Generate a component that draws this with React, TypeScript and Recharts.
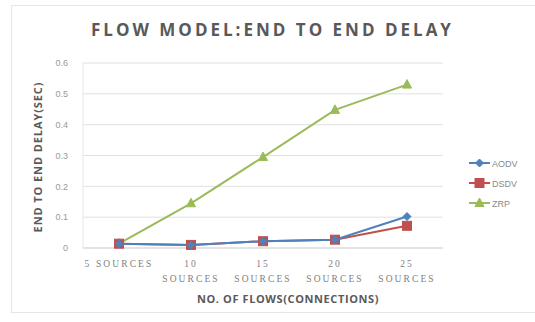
import React from "react";
import { LineChart, Line, XAxis, YAxis, CartesianGrid } from "recharts";

const categories = ["5 SOURCES", "10 SOURCES", "15 SOURCES", "20 SOURCES", "25 SOURCES"];
const aodv = [0.014, 0.01, 0.022, 0.027, 0.102];
const dsdv = [0.014, 0.01, 0.022, 0.027, 0.072];
const zrp = [0.014, 0.145, 0.295, 0.448, 0.53];
const yTicks = [0, 0.1, 0.2, 0.3, 0.4, 0.5, 0.6];

const seriesInfo = [
  { key: "AODV", color: "#4F81BD", shape: "diamond" },
  { key: "DSDV", color: "#C0504D", shape: "square" },
  { key: "ZRP", color: "#9BBB59", shape: "triangle" },
];

const data = categories.map((c, i) => ({ name: c, AODV: aodv[i], DSDV: dsdv[i], ZRP: zrp[i] }));

const Marker = ({ cx, cy, color, shape }: any) => {
  if (cx == null || cy == null) return null;
  if (shape === "square") {
    return <rect x={cx - 4.5} y={cy - 4.5} width={9} height={9} fill={color} stroke={color} />;
  }
  if (shape === "triangle") {
    return <polygon points={`${cx},${cy - 5} ${cx + 4.5},${cy + 3.5} ${cx - 4.5},${cy + 3.5}`} fill={color} stroke={color} />;
  }
  return <polygon points={`${cx},${cy - 4} ${cx + 4},${cy} ${cx},${cy + 4} ${cx - 4},${cy}`} fill={color} stroke={color} />;
};

const XTick = ({ x, y, payload }: any) => {
  const v: string = payload.value;
  const parts = v.split(" ");
  const style = { fontFamily: "Liberation Serif", fontSize: 9.5, fill: "#7f7f7f", letterSpacing: 2.1 };
  if (parts[0] === "5") {
    return (
      <text x={x} y={y + 11} textAnchor="middle" style={style}>
        {v}
      </text>
    );
  }
  return (
    <g>
      <text x={x} y={y + 11} textAnchor="middle" style={style}>
        {parts[0]}
      </text>
      <text x={x} y={y + 26} textAnchor="middle" style={style}>
        {parts[1]}
      </text>
    </g>
  );
};

const LegendBox = () => (
  <svg width={70} height={60} style={{ position: "absolute", left: 466, top: 153 }}>
    {seriesInfo.map((s, i) => {
      const y = 10 + i * 20;
      return (
        <g key={s.key}>
          <line x1={3} x2={24} y1={y} y2={y} stroke={s.color} strokeWidth={2} />
          <Marker cx={13.5} cy={y} color={s.color} shape={s.shape} />
          <text x={26} y={y + 3.5} style={{ fontFamily: "Liberation Sans", fontSize: 9, fill: "#8a8a8a" }}>
            {s.key}
          </text>
        </g>
      );
    })}
  </svg>
);

export default function App() {
  return (
    <div style={{ position: "absolute", left: 0, top: 0, width: 535, height: 322, background: "#ffffff", overflow: "hidden" }}>
      <div style={{ position: "absolute", left: 11, top: 5, width: 540, height: 308, border: "1px solid #e6e6e6", boxSizing: "border-box" }} />
      <div
        style={{
          position: "absolute",
          left: 0,
          width: 535,
          top: 18,
          textAlign: "center",
          fontFamily: "Open Sans",
          fontWeight: 700,
          fontSize: 17,
          letterSpacing: 3,
          color: "#595959",
          paddingLeft: 10,
          boxSizing: "border-box",
          whiteSpace: "nowrap",
        }}
      >
        FLOW MODEL:END TO END DELAY
      </div>
      <div style={{ position: "absolute", left: 0, top: 0 }}>
        <LineChart width={535} height={322} data={data} margin={{ top: 63, right: 92, bottom: 44, left: 53 }}>
          <CartesianGrid horizontal={true} vertical={false} stroke="#e0e0e0" />
          <XAxis
            dataKey="name"
            tick={<XTick />}
            tickLine={false}
            axisLine={{ stroke: "#d9d9d9" }}
            interval={0}
            height={30}
            padding={{ left: 36, right: 36 }}
          />
          <YAxis
            width={30}
            domain={[0, 0.6]}
            ticks={yTicks}
            tickLine={false}
            axisLine={{ stroke: "#e6e6e6" }}
            tickSize={0}
            tickMargin={15}
            tick={{ fontFamily: "Liberation Sans", fontSize: 9, fill: "#999999" }}
          />
          {seriesInfo
            .slice()
            .reverse()
            .map((s) => (
              <Line
                key={s.key}
                dataKey={s.key}
                stroke={s.color}
                strokeWidth={2}
                isAnimationActive={false}
                dot={(p: any) => <Marker key={`${s.key}-${p.index}`} cx={p.cx} cy={p.cy} color={s.color} shape={s.shape} />}
              />
            ))}
        </LineChart>
      </div>
      <LegendBox />
      <div
        style={{
          position: "absolute",
          left: 150,
          width: 276,
          top: 291,
          textAlign: "center",
          fontFamily: "Open Sans",
          fontWeight: 700,
          fontSize: 11,
          letterSpacing: 0.6,
          color: "#595959",
          whiteSpace: "nowrap",
        }}
      >
        NO. OF FLOWS(CONNECTIONS)
      </div>
      <div
        style={{
          position: "absolute",
          left: 38 - 90,
          top: 157 - 8,
          width: 180,
          height: 16,
          lineHeight: "16px",
          textAlign: "center",
          transform: "rotate(-90deg)",
          fontFamily: "Open Sans",
          fontWeight: 700,
          fontSize: 11,
          letterSpacing: 0.9,
          color: "#595959",
          whiteSpace: "nowrap",
        }}
      >
        END TO END DELAY(SEC)
      </div>
    </div>
  );
}
